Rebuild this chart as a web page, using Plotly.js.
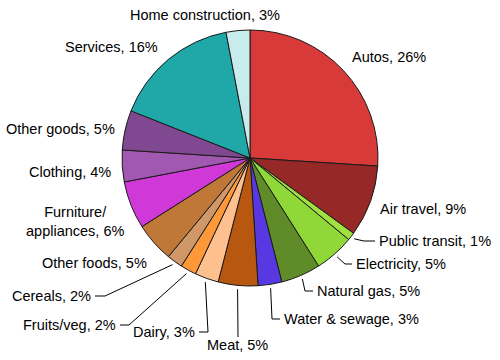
<!DOCTYPE html>
<html>
<head>
<meta charset="utf-8">
<script src="https://cdn.plot.ly/plotly-3.0.1.min.js"></script>
<style>html,body{margin:0;padding:0;background:#fff;}#chart{width:500px;height:360px;}</style>
</head>
<body>
<div id="chart"></div>
<script>
// ---- data ----
const categories = ["Autos", "Air travel", "Public transit", "Electricity", "Natural gas",
  "Water & sewage", "Meat", "Dairy", "Fruits/veg", "Cereals", "Other foods",
  "Furniture/<br>appliances", "Clothing", "Other goods", "Services", "Home construction"];
const shares = [26, 9, 1, 5, 5, 3, 5, 3, 2, 2, 5, 6, 4, 5, 16, 3];
const sliceColors = ["#d83a3a", "#962828", "#a0e040", "#90d838", "#5f8c28",
  "#5838e0", "#b85810", "#ffc090", "#ff9838", "#d09868", "#c07838",
  "#d038d8", "#a058b0", "#804890", "#20a8a8", "#c8ecec"];

// ---- layout geometry (pixels) ----
const W = 500, H = 360;
const cx = 250, cy = 158, R = 128;
const px = x => x / W;
const py = y => 1 - y / H;

// label placement: text anchor [x, y, xanchor], optional leader path points (px)
const labelPlace = {
  "Autos": {x: 350, y: 57, a: "left"},
  "Air travel": {x: 378, y: 209, a: "left"},
  "Public transit": {x: 377, y: 241, a: "left", line: [[375, 241], [364, 241]]},
  "Electricity": {x: 354, y: 264, a: "left", line: [[352, 264], [345, 264]]},
  "Natural gas": {x: 315, y: 291, a: "left", line: [[313, 291], [305, 291]]},
  "Water & sewage": {x: 282, y: 319, a: "left", line: [[280, 319], [272, 319]]},
  "Meat": {x: 237, y: 345, a: "center", line: [[238, 337]]},
  "Dairy": {x: 197, y: 332, a: "right", line: [[199, 332], [208, 332]]},
  "Fruits/veg": {x: 118, y: 325, a: "right", line: [[120, 325], [129, 325]]},
  "Cereals": {x: 93, y: 296, a: "right", line: [[95, 296], [105, 296]]},
  "Other foods": {x: 149, y: 263, a: "right"},
  "Furniture/<br>appliances": {x: 75, y: 221, a: "center"},
  "Clothing": {x: 113, y: 172, a: "right"},
  "Other goods": {x: 117, y: 129, a: "right"},
  "Services": {x: 160, y: 47, a: "right"},
  "Home construction": {x: 205, y: 15, a: "center"}
};

const total = shares.reduce((s, v) => s + v, 0);
const annotations = [];
const shapes = [];
let cum = 0;
categories.forEach((cat, i) => {
  const mid = (cum + shares[i] / 2) / total * 2 * Math.PI;
  cum += shares[i];
  const p = labelPlace[cat];
  annotations.push({
    text: cat + ", " + shares[i] + "%",
    x: px(p.x), y: py(p.y), xref: "paper", yref: "paper",
    xanchor: p.a, yanchor: "middle", align: "center",
    showarrow: false,
    font: {family: "Liberation Sans, Arial, sans-serif", size: 14.5, color: "#000"}
  });
  if (p.line) {
    const ex = cx + Math.sin(mid) * R * 1.03;
    const ey = cy - Math.cos(mid) * R * 1.03;
    const pts = p.line.concat([[ex, ey]]);
    let d = "";
    pts.forEach((q, k) => { d += (k ? " L " : "M ") + px(q[0]) + "," + py(q[1]); });
    shapes.push({type: "path", xref: "paper", yref: "paper", path: d,
      line: {color: "#000", width: 1}});
  }
});

const trace = {
  type: "pie",
  labels: categories,
  values: shares,
  sort: false,
  direction: "clockwise",
  rotation: 0,
  textinfo: "none",
  hoverinfo: "label+percent",
  marker: {colors: sliceColors, line: {color: "#1a1a1a", width: 1}},
  domain: {x: [px(cx - R), px(cx + R)], y: [py(cy + R), py(cy - R)]},
  showlegend: false
};

const layout = {
  width: W, height: H,
  margin: {l: 0, r: 0, t: 0, b: 0},
  paper_bgcolor: "#fff",
  plot_bgcolor: "#fff",
  showlegend: false,
  annotations: annotations,
  shapes: shapes
};

Plotly.newPlot("chart", [trace], layout, {displayModeBar: false, staticPlot: true});
</script>
</body>
</html>
